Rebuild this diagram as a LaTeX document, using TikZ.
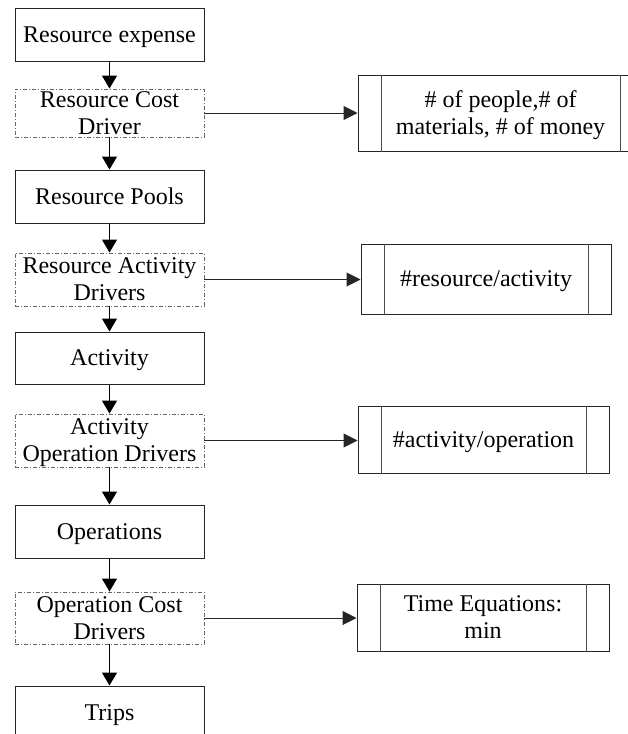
\documentclass[tikz,border=0pt]{standalone}
\usepackage{fontspec}
\setmainfont{Liberation Serif}
\usetikzlibrary{arrows.meta}
\begin{document}
\begin{tikzpicture}[x=1pt,y=-1pt,
  every node/.style={font=\fontsize{24}{27}\selectfont, align=center, inner sep=0pt, text depth=0pt},
  stage/.style={draw=black!85, line width=1pt, minimum width=189pt},
  driver/.style={draw=black!60, line width=0.9pt, dash pattern=on 4pt off 2pt on 1pt off 2pt, minimum width=189pt},
  measure/.style={draw=black!85, line width=1pt},
  flow/.style={draw=black, line width=1.2pt, -{Triangle[length=13pt,width=15pt]}},
  link/.style={draw=black!85, line width=1pt, -{Triangle[length=14pt,width=14pt]}}
]
\useasboundingbox (0,0) rectangle (628,734);

% main cost-allocation chain
\node[stage,  minimum height=53pt] (n1) at (109.5,34.5)  {Resource expense};
\node[driver, minimum height=48pt] (n2) at (109.5,113)   {Resource Cost\\Driver};
\node[stage,  minimum height=53pt] (n3) at (109.5,196.5) {Resource Pools};
\node[driver, minimum height=53pt] (n4) at (109.5,279.5) {Resource Activity\\Drivers};
\node[stage,  minimum height=52pt] (n5) at (109.5,358)   {Activity};
\node[driver, minimum height=53pt] (n6) at (109.5,440.5) {Activity\\Operation Drivers};
\node[stage,  minimum height=53pt] (n7) at (109.5,531.5) {Operations};
\node[driver, minimum height=52pt] (n8) at (109.5,618)   {Operation Cost\\Drivers};
\node[stage,  minimum height=54pt] (n9) at (109.5,713)   {Trips};

% driver measures
\node[measure, minimum width=285pt, minimum height=76pt] (r1) at (500.5,113)   {\# of people,\# of\\materials, \# of money};
\node[measure, minimum width=250pt, minimum height=70pt] (r2) at (486,279)     {\#resource/activity};
\node[measure, minimum width=251pt, minimum height=67pt] (r3) at (483.5,439.5) {\#activity/operation};
\node[measure, minimum width=252pt, minimum height=67pt] (r4) at (483,617.5)   {Time Equations:\\min};

% side bars of the measure boxes
\foreach \r in {r1,r2,r3,r4}{
  \draw[draw=black!70, line width=1pt] ([xshift=23.5pt]\r.north west) -- ([xshift=23.5pt]\r.south west);
  \draw[draw=black!70, line width=1pt] ([xshift=-23.5pt]\r.north east) -- ([xshift=-23.5pt]\r.south east);
}

% vertical flow
\foreach \a/\b in {n1/n2,n2/n3,n3/n4,n4/n5,n5/n6,n6/n7,n7/n8,n8/n9}{
  \draw[flow] (\a.south) -- (\b.north);
}

% drivers to their measures
\draw[link] (n2.east) -- (n2.east -| r1.west);
\draw[link] (n4.east) -- (n4.east -| r2.west);
\draw[link] (n6.east) -- (n6.east -| r3.west);
\draw[link] (n8.east) -- (n8.east -| r4.west);
\end{tikzpicture}
\end{document}
